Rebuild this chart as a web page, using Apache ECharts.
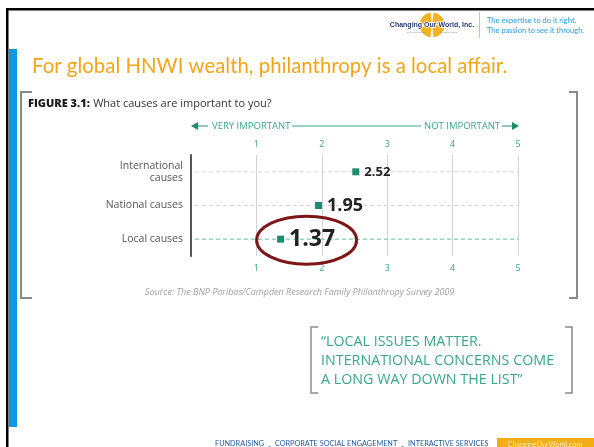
<!DOCTYPE html>
<html>
<head>
<meta charset="utf-8">
<script src="https://cdn.jsdelivr.net/npm/echarts@6/dist/echarts.min.js"></script>
<style>
  html, body { margin: 0; padding: 0; background: #fff; }
  #main { width: 594px; height: 447px; }
</style>
</head>
<body>
<div id="main"></div>
<script>
// values
var causes = ['International\ncauses', 'National causes', 'Local causes'];
var scores = [2.52, 1.95, 1.37];
var scaleMin = 0, scaleMax = 5;

var GREEN = '#1b8e6c';
var LABEL_GREEN = '#3aa688';
var ORANGE = '#f4a418';

var chart = echarts.init(document.getElementById('main'));

function xAxisCfg(pos, margin) {
	return {
		type: 'value',
		position: pos,
		min: scaleMin,
		max: scaleMax,
		interval: 1,
		axisLine: { show: false },
		axisTick: { show: false },
		axisLabel: {
			margin: margin,
			color: LABEL_GREEN,
			fontSize: 9,
			fontFamily: 'Open Sans',
			formatter: function (v) { return v === 0 ? '' : v; }
		},
		splitLine: { show: pos == 'bottom', lineStyle: { color: '#d2d2d2', width: 1 } }
	};
}

var labelSizes = [13, 18, 23];
var rowLines = ['#d6d6d6', '#d6d6d6', '#5cc39e'];

var staticGraphics = [
	// slide frame
	{ type: 'rect', shape: { x: 6, y: 8, width: 588, height: 2.5 }, style: { fill: '#000' } },
	{ type: 'rect', shape: { x: 6, y: 8, width: 2.5, height: 439 }, style: { fill: '#000' } },
	{ type: 'rect', shape: { x: 9, y: 49, width: 8, height: 378 }, style: { fill: '#0a9ade' } },
	// logo
	{ type: 'sector', shape: { cx: 432, cy: 25, r: 12.5, r0: 0, startAngle: -1.45, endAngle: -0.2 }, style: { fill: '#f3b224' } },
	{ type: 'sector', shape: { cx: 432, cy: 25, r: 12.5, r0: 0, startAngle: 0.05, endAngle: 1.45 }, style: { fill: '#f3b224' } },
	{ type: 'sector', shape: { cx: 432, cy: 25, r: 12.5, r0: 0, startAngle: 1.7, endAngle: 2.95 }, style: { fill: '#f3b224' } },
	{ type: 'sector', shape: { cx: 432, cy: 25, r: 12.5, r0: 0, startAngle: 3.2, endAngle: 4.6 }, style: { fill: '#f3b224' } },
	{ type: 'text', x: 432, y: 25, style: { text: 'Changing Our World, Inc.', fill: '#283c78', font: 'bold 7px "Liberation Sans Narrow", "Liberation Sans"', align: 'center', verticalAlign: 'middle', stroke: '#fff', lineWidth: 1.5 }, z: 3 },
	{ type: 'text', x: 432, y: 32, style: { text: 'PHILANTHROPY                    FUNDRAISING', fill: '#888', font: '2.5px "Liberation Sans"', align: 'center', verticalAlign: 'middle' } },
	{ type: 'line', shape: { x1: 479.5, y1: 12, x2: 479.5, y2: 38 }, style: { stroke: '#f5c063', lineWidth: 1 } },
	{ type: 'text', x: 487, y: 21, style: { text: 'The expertise to do it right.', fill: '#2a9be0', font: '7.5px Lato', verticalAlign: 'middle' } },
	{ type: 'text', x: 487, y: 31, style: { text: 'The passion to see it through.', fill: '#2a9be0', font: '7.5px Lato', verticalAlign: 'middle' } },
	// title
	{ type: 'text', x: 32, y: 66, style: { text: 'For global HNWI wealth, philanthropy is a local affair.', fill: ORANGE, font: '20.4px Lato', verticalAlign: 'middle' } },
	// figure brackets
	{ type: 'polyline', shape: { points: [[32, 92], [21, 92], [21, 298], [32, 298]] }, style: { stroke: '#8a8a8a', lineWidth: 2, fill: null } },
	{ type: 'polyline', shape: { points: [[569, 92], [577, 92], [577, 298], [569, 298]] }, style: { stroke: '#8a8a8a', lineWidth: 2, fill: null } },
	{ type: 'text', x: 28, y: 104, style: {
		text: '{b|FIGURE 3.1:} {n|What causes are important to you?}',
		verticalAlign: 'middle',
		rich: {
			b: { font: '900 11px "Open Sans"', fill: '#1a1a1a' },
			n: { font: '11px "Open Sans"', fill: '#333' }
		}
	} },
	// importance arrows
	{ type: 'polygon', shape: { points: [[191, 126], [198, 122], [198, 130]] }, style: { fill: GREEN } },
	{ type: 'line', shape: { x1: 197, y1: 126, x2: 208, y2: 126 }, style: { stroke: GREEN, lineWidth: 1 } },
	{ type: 'text', x: 212, y: 126, style: { text: 'VERY IMPORTANT', fill: LABEL_GREEN, font: '9.5px "Open Sans"', verticalAlign: 'middle' } },
	{ type: 'line', shape: { x1: 292, y1: 126, x2: 421, y2: 126 }, style: { stroke: LABEL_GREEN, lineWidth: 1 } },
	{ type: 'text', x: 424, y: 126, style: { text: 'NOT IMPORTANT', fill: LABEL_GREEN, font: '9.5px "Open Sans"', verticalAlign: 'middle' } },
	{ type: 'line', shape: { x1: 502, y1: 126, x2: 512, y2: 126 }, style: { stroke: GREEN, lineWidth: 1 } },
	{ type: 'polygon', shape: { points: [[519, 126], [512, 122], [512, 130]] }, style: { fill: GREEN } },
	// source
	{ type: 'text', x: 145, y: 292, style: { text: 'Source: The BNP Paribas/Campden Research Family Philanthropy Survey 2009', fill: '#a0a0a0', font: 'italic 9px "Open Sans"', verticalAlign: 'middle' } },
	// quote
	{ type: 'polyline', shape: { points: [[318, 327], [311, 327], [311, 393], [318, 393]] }, style: { stroke: '#8a8a8a', lineWidth: 1.5, fill: null } },
	{ type: 'polyline', shape: { points: [[565, 327], [572, 327], [572, 393], [565, 393]] }, style: { stroke: '#8a8a8a', lineWidth: 1.5, fill: null } },
	{ type: 'text', x: 321, y: 361, style: {
		text: '\u201cLOCAL ISSUES MATTER.\nINTERNATIONAL CONCERNS COME\nA LONG WAY DOWN THE LIST\u201d',
		fill: LABEL_GREEN, font: '14.3px "Open Sans"', lineHeight: 19, verticalAlign: 'middle'
	} },
	// footer
	{ type: 'text', x: 215, y: 444, style: { text: 'FUNDRAISING  _  CORPORATE SOCIAL ENGAGEMENT  _  INTERACTIVE SERVICES', fill: '#1e5aa0', font: '7.3px Lato', verticalAlign: 'middle' } },
	{ type: 'rect', shape: { x: 497, y: 438, width: 97, height: 12 }, style: { fill: '#f2ae14' } },
	{ type: 'text', x: 545, y: 445, style: { text: 'ChangingOurWorld.com', fill: '#fde9b8', font: '7px Lato', align: 'center', verticalAlign: 'middle' } }
];

// dashed row guides, one line series per cause
var rowSeries = causes.map(function (c, i) {
	return {
		type: 'line',
		xAxisIndex: 1,
		silent: true,
		symbol: 'none',
		data: [[scaleMin + 0.06, c], [scaleMax, c]],
		lineStyle: { color: rowLines[i], type: [4, 3], width: 1 },
		z: 1
	};
});

var option = {
	backgroundColor: '#fff',
	animation: false,
	grid: { left: 191, right: 76, top: 155, bottom: 191, containLabel: false },
	xAxis: [xAxisCfg('top', 6), xAxisCfg('bottom', 8)],
	yAxis: {
		type: 'category',
		inverse: true,
		data: causes,
		axisLine: { show: true, lineStyle: { color: '#555', width: 2 } },
		axisTick: { show: false },
		splitLine: { show: false },
		axisLabel: { margin: 8, color: '#555', fontSize: 10.5, lineHeight: 12, fontFamily: 'Open Sans' }
	},
	series: rowSeries.concat([{
		type: 'scatter',
		xAxisIndex: 1,
		symbol: 'rect',
		symbolSize: 7,
		itemStyle: { color: GREEN, opacity: 1 },
		data: scores.map(function (v, i) {
			return {
				value: [v, causes[i]],
				label: { fontSize: labelSizes[i] }
			};
		}),
		label: {
			show: true,
			position: 'right',
			distance: 5,
			color: '#222',
			fontWeight: 'bold',
			fontFamily: 'Open Sans',
			formatter: function (p) { return p.value[0].toFixed(2); }
		},
		z: 5
	}]),
	graphic: staticGraphics
};

chart.setOption(option);

// highlight ellipse round the local causes score
var pt = chart.convertToPixel({ xAxisIndex: 1, yAxisIndex: 0 }, [scores[2], causes[2]]);
chart.setOption({
	graphic: staticGraphics.concat([{
		type: 'ellipse',
		shape: { cx: pt[0] + 26, cy: pt[1] + 1, rx: 50, ry: 24 },
		style: { stroke: '#7d1616', lineWidth: 3, fill: null },
		z: 10
	}])
});
</script>
</body>
</html>
